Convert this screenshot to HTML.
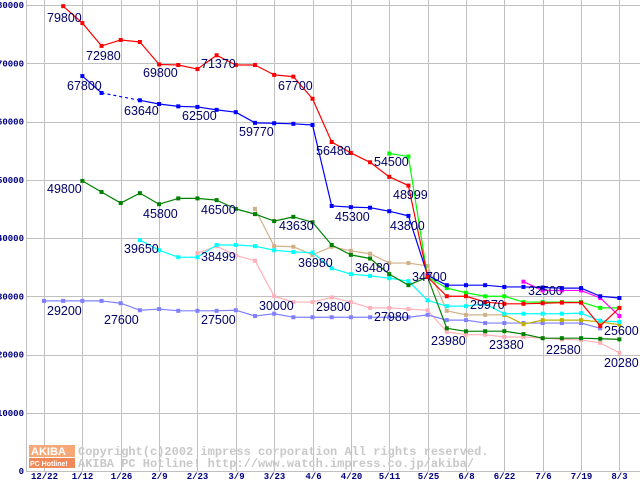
<!DOCTYPE html>
<html><head><meta charset="utf-8"><style>
body{margin:0;background:#fff;width:640px;height:480px;overflow:hidden}
svg{display:block}
.ax{font:bold 9px "Liberation Mono",monospace;fill:#000080}
.lb{font:12.5px "Liberation Sans",sans-serif;fill:#000066}
.wm{font:bold 12px "Liberation Mono",monospace;fill:#c8c8c8}
</style></head><body>
<svg id="c" width="640" height="480"></svg>
<script>
const xLabels=["12/22","1/12","1/26","2/9","2/23","3/9","3/23","4/6","4/20","5/11","5/25","6/8","6/22","7/6","7/19","8/3"];
const yTicks=[0,10000,20000,30000,40000,50000,60000,70000,80000];
const redStart=1;
const redVals=[79800,76900,72980,74000,73650,69800,69700,69000,71370,69700,69700,68000,67700,63900,56480,54600,53000,50500,48999,33300,30000,30000,29000,28700,28700,28800,28900,28900,24900,28000];
const blueStart=2;
const blueVals=[67800,64900,null,63640,63000,62600,62500,62000,61600,59770,59700,59600,59400,45500,45300,45200,44600,43800,33600,31900,31900,31900,31600,31600,31500,31400,31400,30000,29700];
const dgreenStart=2;
const dgreenVals=[49800,47900,46000,47700,45800,46800,46800,46500,45000,44100,42900,43630,42700,38800,37100,36480,33800,31900,33300,24500,23980,24000,24000,23500,22800,22800,22800,22700,22600];
const cyanStart=5;
const cyanVals=[39650,37900,36700,36700,38800,38800,38600,37900,37600,37500,34800,33800,33500,33100,32600,29300,28300,28300,28700,27000,27000,27000,27000,27100,25800,25600];
const tanStart=11;
const tanVals=[45000,38600,38500,37100,38500,37800,37300,35700,35700,35200,27500,26800,26800,26800];
const oliveStart=24;
const oliveVals=[26800,25200,25900,25900,25900,25600,25100];
const pinkStart=8;
const pinkVals=[37400,38600,37000,36100,30000,29000,29000,29800,29000,28000,28000,27800,27600,23900,23400,23400,23000,23000,22800,22600,22500,22000,20280];
const lavStart=0;
const lavVals=[29200,29200,29200,29200,28800,27600,27800,27500,27500,27500,27600,26600,27000,26400,26400,26400,26400,26400,26400,26400,26800,25900,25900,25400,25400,25400,25400,25400,25400,24500];
const lgreenStart=18;
const lgreenVals=[54500,54000,33300,31400,30600,30000,30000,29000,29000,29000,29000,28000,28000];
const magStart=25;
const magVals=[32500,31000,31000,31000,29700,26600];

const svg=document.getElementById('c');const NS='http://www.w3.org/2000/svg';
function X(i){return 44+19.18*i;}
function Y(v){return 471-v*0.005825;}
function el(t,a,p){const e=document.createElementNS(NS,t);for(const k in a)e.setAttribute(k,a[k]);(p||svg).appendChild(e);return e;}
const grid=el('g',{});


yTicks.forEach(v=>{
 const y=Math.round(Y(v))+0.5;
 const l=el('line',{x1:26,x2:640,y1:y,y2:y,stroke:'#c0c0c0','stroke-width':1},grid);
 
 
 const t=el('text',{x:24,y:Y(v)+3,'text-anchor':'end',class:'ax'});t.textContent=v;
 
 
});
xLabels.forEach((s,k)=>{
 const x=Math.round(X(k*2))+0.5;
 const l=el('line',{x1:x,x2:x,y1:0,y2:471,stroke:'#c0c0c0','stroke-width':1},grid);
 
 
 const t=el('text',{x:x,y:479,'text-anchor':'middle',class:'ax'});t.textContent=s;
 
 
});
const ax=el('line',{x1:26.5,x2:26.5,y1:0,y2:471,stroke:'#c0c0c0','stroke-width':1});


const wm=el('g',{});


el('rect',{x:29,y:445,width:46,height:12,fill:'#f5a878'},wm);
el('rect',{x:29,y:458,width:46,height:10,fill:'#f08858'},wm);
let t1=el('text',{x:31,y:455,fill:'#fff',style:'font:bold 11px Liberation Sans,sans-serif'},wm);t1.textContent='AKIBA';
let t2=el('text',{x:30,y:466,fill:'#fff',style:'font:bold 7px Liberation Sans,sans-serif'},wm);t2.textContent='PC Hotline!';
let t3=el('text',{x:78,y:455,class:'wm'},wm);t3.textContent='Copyright(c)2002 impress corporation All rights reserved.';
let t4=el('text',{x:78,y:467,class:'wm'},wm);t4.textContent='AKIBA PC Hotline!  http://www.watch.impress.co.jp/akiba/';
function series(name,start,vals,color){
 const g=el('g',{});
 
 
 let prev=null;
 vals.forEach((v,k)=>{
  if(v==null)return;
  const i=start+k;
  if(prev){const dash=(i-prev.i>1);const l=el('line',{x1:X(prev.i),y1:Y(prev.v),x2:X(i),y2:Y(v),stroke:color,'stroke-width':1.2},g);if(dash)l.setAttribute('stroke-dasharray','3,3');
   
   }
  prev={i,v};
 });
 vals.forEach((v,k)=>{
  if(v==null)return;
  const r=el('rect',{x:X(start+k)-2,y:Y(v)-2,width:4,height:4,fill:color},g);
  
  
 });
}
series('pink-series',pinkStart,pinkVals,'#ffb0b8');
series('lavender-series',lavStart,lavVals,'#8080ff');
series('tan-series',tanStart,tanVals,'#d0b088');
series('olive-series',oliveStart,oliveVals,'#c0b000');
series('cyan-series',cyanStart,cyanVals,'#00ffff');
series('darkgreen-series',dgreenStart,dgreenVals,'#008000');
series('lightgreen-series',lgreenStart,lgreenVals,'#00ff00');
series('magenta-series',magStart,magVals,'#ff00ff');
series('blue-series',blueStart,blueVals,'#0000ff');
series('red-series',redStart,redVals,'#ff0000');
const labels=[["79800",47,22],["72980",86,60],["69800",143,77],["71370",201,68],["67800",67,90],["63640",124,115],["62500",182,120],["59770",239,136],["67700",278,90],["56480",316,155],["54500",374,166],["48999",393,199],["45300",335,221],["43800",390,230],["49800",47,193],["45800",143,218],["46500",201,214],["43630",279,230],["39650",124,253],["38499",201,261],["36980",298,267],["36480",355,272],["34700",412,281],["30000",259,310],["29800",316,311],["27980",374,321],["29200",47,315],["27600",104,324],["27500",201,324],["23980",431,345],["29970",470,309],["32500",528,295],["23380",489,349],["22580",546,354],["25600",604,335],["20280",604,367]];
labels.forEach(([s,x,y])=>{const t=el('text',{x,y,class:'lb'});t.textContent=s;
 
 });
</script>
</body></html>
